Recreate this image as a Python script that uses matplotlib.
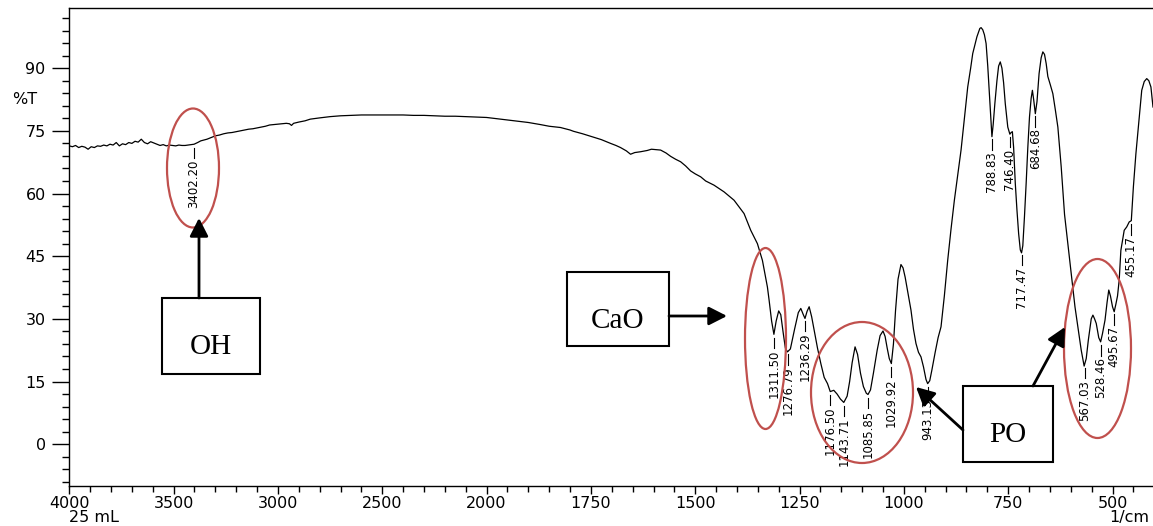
import numpy as np
import matplotlib
matplotlib.use('Agg')
import matplotlib.pyplot as plt
from matplotlib.patches import Ellipse, Rectangle, FancyArrowPatch

# FTIR spectrum: wavenumber (1/cm) and %T
wavenumber = [
    4000, 3985, 3970, 3955, 3940, 3925, 3910, 3895, 3880, 3865, 3850, 3835, 3820, 3805,
    3790, 3775, 3760, 3745, 3730, 3715, 3700, 3685, 3670, 3655, 3640, 3625, 3610, 3595,
    3580, 3565, 3550, 3535, 3520, 3505, 3490, 3475, 3460, 3445, 3430, 3415, 3402, 3385,
    3370, 3355, 3340, 3320, 3300, 3280, 3260, 3240, 3220, 3200, 3180, 3160, 3140, 3120,
    3100, 3080, 3060, 3040, 3020, 3000, 2980, 2960, 2945, 2935, 2925, 2900, 2870, 2845,
    2800, 2750, 2700, 2650, 2600, 2550, 2500, 2450, 2400, 2350, 2300, 2250, 2200, 2150,
    2100, 2050, 2000,
    1950, 1900, 1871, 1850, 1823, 1800, 1792, 1770, 1751, 1725, 1703, 1690, 1679, 1665,
    1655, 1645, 1631, 1615, 1605, 1595, 1583, 1570, 1559, 1547, 1535, 1523, 1511, 1500,
    1487, 1475, 1455, 1431, 1407, 1383, 1367, 1351, 1339, 1327, 1323, 1317, 1311.5, 1306,
    1300, 1295, 1289, 1284, 1279, 1272, 1262, 1253, 1247, 1241, 1237, 1232, 1227, 1221,
    1215, 1207, 1199, 1191, 1183, 1176.5, 1168, 1160, 1152, 1144, 1136, 1130, 1124, 1117,
    1111, 1104, 1097, 1090, 1086, 1080, 1073, 1064, 1057, 1050, 1045, 1040, 1035, 1030,
    1025, 1020, 1014, 1007, 1002, 997, 990, 983, 977, 971, 965, 959, 953, 947, 943, 938,
    933, 925, 918, 911, 903, 895, 887, 879, 871, 863, 855, 847, 840, 835, 825, 818, 815,
    811, 807, 803, 799, 795, 791, 789, 786, 782, 777, 773, 769, 765, 761, 757, 751, 746,
    743, 740, 737, 733, 729, 725, 721, 718, 715, 711, 707, 703, 699, 695, 692, 689, 685,
    681, 676, 671, 667, 663, 659, 655, 649, 643, 637, 631, 623, 615, 607, 598, 590, 582,
    575, 568, 563, 558, 551, 547, 543, 539, 533, 528.5, 524, 518, 513, 509, 505, 500, 496,
    492, 488, 484, 480, 472, 466, 460, 455, 450, 444, 438, 430, 424, 418, 413, 408, 403,
]
transmittance = [
    71.4, 71.2, 71.5, 71.0, 71.3, 71.1, 70.6, 71.2, 71.0, 71.4, 71.3, 71.6, 71.4, 71.8,
    71.6, 72.2, 71.4, 71.9, 71.7, 72.2, 72.0, 72.5, 72.3, 73.0, 72.2, 71.9, 72.4, 72.1,
    71.8, 71.5, 71.7, 71.4, 71.6, 71.5, 71.4, 71.6, 71.5, 71.5, 71.6, 71.7, 71.8, 72.2,
    72.6, 72.8, 73.0, 73.4, 73.8, 74.0, 74.3, 74.5, 74.6, 74.8, 75.0, 75.2, 75.4, 75.5,
    75.7, 75.9, 76.1, 76.4, 76.5, 76.6, 76.7, 76.8, 76.7, 76.3, 76.8, 77.1, 77.4, 77.8,
    78.1, 78.4, 78.6, 78.7, 78.8, 78.8, 78.8, 78.8, 78.8, 78.7, 78.7, 78.6, 78.5, 78.5,
    78.4, 78.3, 78.2,
    77.6, 77.0, 76.5, 76.1, 75.8, 75.2, 74.9, 74.3, 73.7, 72.9, 72.0, 71.5, 71.0, 70.2,
    69.4, 69.8, 70.0, 70.3, 70.6, 70.5, 70.4, 69.7, 68.9, 68.2, 67.6, 66.6, 65.4, 64.7,
    64.0, 63.0, 62.0, 60.4, 58.4, 55.2, 51.2, 48.0, 44.0, 37.6, 34.5, 29.5, 26.3, 29.5,
    31.9, 31.0, 26.5, 23.0, 22.1, 22.8, 27.5, 31.5, 32.5, 31.0, 30.1, 31.8, 32.9, 30.5,
    27.3, 23.0, 19.3, 16.0, 14.5, 12.6, 12.9, 12.0, 10.8, 10.0, 11.5, 15.0, 19.5, 23.3,
    21.5, 17.0, 13.8, 12.2, 11.9, 13.0, 17.0, 22.5, 26.0, 27.1, 25.8, 23.0, 20.5, 19.3,
    24.0, 32.0, 39.5, 43.0, 42.2, 40.0, 36.0, 32.1, 27.5, 24.1, 22.0, 20.9, 18.5, 15.5, 14.5, 15.2,
    17.7, 22.0, 25.5, 28.1, 35.5, 44.0, 51.5, 58.4, 64.5, 70.4, 78.0, 85.5, 90.0, 93.5, 97.5, 99.5, 99.7,
    99.2, 98.0, 95.9, 90.5, 83.9, 77.0, 73.6, 76.5, 81.5, 87.0, 90.5, 91.5, 90.0, 86.5, 81.5, 75.9, 74.2,
    74.6, 74.8, 71.0, 62.4, 56.0, 50.4, 46.5, 45.8, 47.5, 54.5, 62.4, 71.0, 78.3, 82.8, 84.7, 82.5, 79.1,
    82.0, 88.7, 92.5, 93.9, 93.3, 91.1, 88.0, 86.0, 83.9, 80.0, 75.9, 66.4, 55.0, 48.0, 40.0, 32.9, 27.3,
    22.5, 18.7, 20.5, 24.9, 30.0, 30.9, 30.0, 28.9, 25.5, 24.5, 26.5, 29.7, 34.0, 36.9, 35.5, 32.9, 31.7,
    33.5, 35.5, 39.3, 46.4, 51.2, 52.0, 53.2, 53.5, 61.6, 69.5, 75.9, 84.7, 86.8, 87.5, 87.0, 85.5, 80.7,
]

peak_labels = ['3402.20', '1311.50', '1276.79', '1236.29', '1176.50', '1143.71', '1085.85',
               '1029.92', '943.13', '788.83', '746.40', '717.47', '684.68', '567.03',
               '528.46', '495.67', '455.17']

x_major = [4000, 3500, 3000, 2500, 2000, 1750, 1500, 1250, 1000, 750, 500]
y_major = [0, 15, 30, 45, 60, 75, 90]

W, H = 1153, 526
RED = '#c0504d'


def fx(px):
    return px / W


def fy(py):
    return 1 - py / H


# the instrument halves the scale above 2000 1/cm
def fwd(x):
    x = np.asarray(x, dtype=float)
    return np.where(x > 2000, 2000 + (x - 2000) / 2, x)


def inv(u):
    u = np.asarray(u, dtype=float)
    return np.where(u > 2000, 2000 + (u - 2000) * 2, u)


fig = plt.figure(figsize=(W / 100, H / 100), dpi=100)
ax = fig.add_axes([fx(69.3), fy(486), 1 - fx(69.3), fy(8) - fy(486)])
ax.set_xscale('function', functions=(fwd, inv))

wn = np.array(wavenumber)
tr = np.array(transmittance)
ax.plot(wn, tr, color='black', lw=0.9)

ax.set_xlim(4000, 403)
ax.set_ylim(-10, 104.4)

x_minor = list(range(3900, 2000, -100)) + list(range(1950, 400, -50))
ax.set_xticks(x_major)
ax.set_xticklabels([str(v) for v in x_major])
ax.set_xticks(x_minor, minor=True)
ax.set_yticks(y_major)
ax.set_yticks(np.arange(-9, 103, 3), minor=True)

tick_font = 'DejaVu Sans'
for lab in ax.get_xticklabels() + ax.get_yticklabels():
    lab.set_family(tick_font)
ax.tick_params(axis='y', which='major', length=12, width=1, pad=5, labelsize=11.5)
ax.tick_params(axis='y', which='minor', length=5, width=1)
ax.tick_params(axis='x', which='major', length=6, width=1, pad=1, labelsize=11.5)
ax.tick_params(axis='x', which='minor', length=4, width=1)
ax.spines['right'].set_visible(False)
for s in ['left', 'top', 'bottom']:
    ax.spines[s].set_linewidth(1.0)

# peak markers
order = np.argsort(wn)
for lab in peak_labels:
    w = float(lab)
    t = np.interp(w, wn[order], tr[order])
    ax.plot([w, w], [t - 0.8, t - 3.3], color='black', lw=0.8)
    ax.text(w, t - 3.6, lab, rotation=90, ha='center', va='top', fontsize=8.5,
            family=['Liberation Sans Narrow', 'DejaVu Sans'])

fig.text(fx(25), fy(100), '%T', ha='center', va='center', fontsize=11.5, family=tick_font)
fig.text(fx(69), fy(510), '25 mL', ha='left', va='top', fontsize=11.5, family=tick_font)
fig.text(fx(1149), fy(510), '1/cm', ha='right', va='top', fontsize=11.5, family=tick_font)

# red ellipses
for cx, cy, w, h in [(193, 168, 52, 119), (765.5, 338.5, 41, 181),
                     (862, 392.5, 102, 141), (1097.5, 348.5, 67, 179)]:
    fig.add_artist(Ellipse((fx(cx), fy(cy)), w / W, h / H, transform=fig.transFigure,
                           fill=False, edgecolor=RED, lw=1.6))

# labelled boxes
for x0, y0, x1, y1, txt in [(162, 298, 260, 374, 'OH'), (567, 272, 669, 346, 'CaO'),
                            (963, 386, 1053, 462, 'PO')]:
    fig.add_artist(Rectangle((fx(x0), fy(y1)), (x1 - x0) / W, (y1 - y0) / H,
                             transform=fig.transFigure, facecolor='white',
                             edgecolor='black', lw=1.5))
    fig.text(fx((x0 + x1) / 2), fy(y0 + 56), txt, ha='center', va='baseline',
             fontsize=21, family='Liberation Serif')

# arrows
for a, b in [((199, 298), (199, 218)), ((669, 316), (727, 316)),
             ((1033, 386), (1065, 327)), ((963, 430), (916, 387))]:
    fig.add_artist(FancyArrowPatch((fx(a[0]), fy(a[1])), (fx(b[0]), fy(b[1])),
                                   transform=fig.transFigure,
                                   arrowstyle='-|>,head_length=0.55,head_width=0.28',
                                   mutation_scale=20, lw=2.0, color='black',
                                   shrinkA=0, shrinkB=0))

fig.savefig('out.png', dpi=100)
